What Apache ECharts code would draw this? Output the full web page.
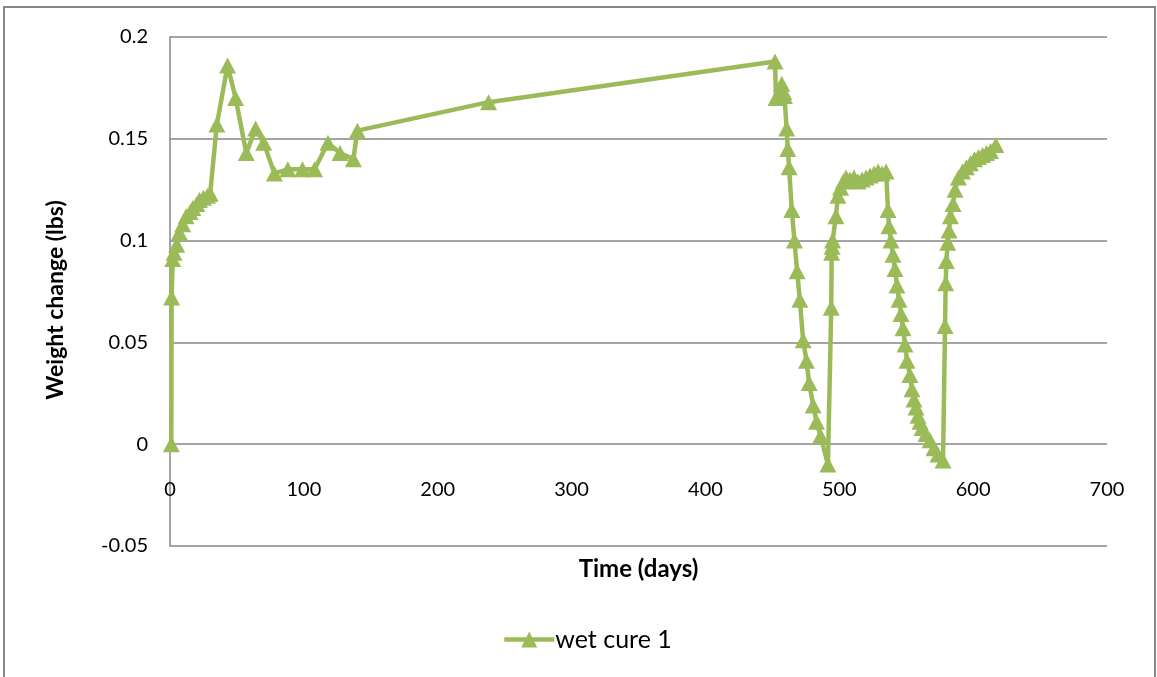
<!DOCTYPE html>
<html>
<head>
<meta charset="utf-8">
<script src="https://cdn.jsdelivr.net/npm/echarts@6/dist/echarts.min.js"></script>
<style>
  html, body { margin: 0; padding: 0; background: #fff; }
  #chart { width: 1157px; height: 677px; }
</style>
</head>
<body>
<div id="chart"></div>
<script>
// Weight change of the "wet cure 1" specimen over time
const days = [
  1, 1.2, 2, 3, 5, 7, 9.5, 12, 15, 17, 20, 22, 25, 28, 30,
  35, 43, 49, 57, 64, 70, 78, 88, 99, 108, 118, 127, 137, 140,
  238, 452, 452.7, 457, 458.5, 459,
  460.7, 461.5, 462.5, 464.5, 466.5, 468.5, 470.5, 473, 475.5, 477.5, 480.5, 483, 486, 491.5,
  494, 494.3, 494.6, 495, 497.5, 499,
  501, 503, 505, 508, 511, 514, 517, 520, 523, 526, 529, 532, 535,
  536.4, 537.1, 538.6, 540.1, 541.6, 543.1, 544.6, 546.1, 547.6, 549.1, 550.6, 552.8, 554.3,
  555.8, 557.3, 558.8, 560.3, 561.8, 564.8, 567.8, 570.7, 573.7, 577.5,
  579, 579.5, 580, 581, 582, 583, 585, 586.5, 589, 592, 595, 598, 601, 604, 607, 610, 613, 617
];
const weightChange = [
  0, 0.072, 0.091, 0.094, 0.098, 0.104, 0.108, 0.112, 0.114, 0.116, 0.118, 0.12, 0.121, 0.122, 0.123,
  0.157, 0.186, 0.170, 0.143, 0.155, 0.148, 0.133, 0.135, 0.135, 0.135, 0.148, 0.143, 0.140, 0.154,
  0.168, 0.188, 0.170, 0.177, 0.173, 0.171,
  0.155, 0.145, 0.136, 0.115, 0.100, 0.085, 0.071, 0.051, 0.041, 0.030, 0.019, 0.011, 0.004, -0.010,
  0.067, 0.094, 0.097, 0.100, 0.112, 0.122,
  0.126, 0.129, 0.131, 0.130, 0.131, 0.129, 0.130, 0.131, 0.132, 0.133, 0.134, 0.133, 0.134,
  0.115, 0.107, 0.100, 0.093, 0.086, 0.078, 0.071, 0.064, 0.057, 0.049, 0.041, 0.034, 0.027,
  0.022, 0.018, 0.014, 0.011, 0.008, 0.005, 0.002, -0.002, -0.005, -0.008,
  0.058, 0.079, 0.090, 0.099, 0.105, 0.112, 0.118, 0.125, 0.131, 0.134, 0.136, 0.138, 0.140, 0.141, 0.142, 0.143, 0.144, 0.147
];
const seriesName = 'wet cure 1';
const xTitle = 'Time (days)';
const yTitle = 'Weight change (lbs)';

const FONT = 'Lato, "Open Sans", sans-serif';
const GREEN = '#9BBB59';
const GRID_GRAY = '#868686';

const chart = echarts.init(document.getElementById('chart'), null, { renderer: 'canvas' });

chart.setOption({
  animation: false,
  backgroundColor: '#fff',
  graphic: [{
    type: 'rect',
    shape: { x: 4, y: 7, width: 1151, height: 690 },
    style: { fill: 'none', stroke: GRID_GRAY, lineWidth: 2 },
    silent: true
  }, {
    // vertical axis title
    type: 'text',
    x: 56, y: 300,
    rotation: Math.PI / 2,
    style: {
      text: yTitle,
      fontFamily: FONT, fontSize: 23, fontWeight: 'bold', fill: '#000',
      align: 'center', verticalAlign: 'middle'
    },
    silent: true
  }],
  grid: { left: 170, right: 50, top: 37, bottom: 131 },
  legend: {
    data: [seriesName],
    left: 497, top: 622,
    itemWidth: 50, itemHeight: 20,
    itemGap: 0,
    lineStyle: { width: 4.5, color: GREEN },
    itemStyle: { color: GREEN },
    textStyle: { fontFamily: FONT, fontSize: 25, color: '#000', padding: [0, 0, 0, -4] }
  },
  xAxis: {
    type: 'value',
    min: 0, max: 700, interval: 100,
    name: xTitle,
    nameLocation: 'middle',
    nameGap: 11,
    nameTextStyle: { fontFamily: FONT, fontSize: 24, fontWeight: 'bold', color: '#000' },
    axisLine: { show: false, onZero: false },
    axisTick: { show: false },
    splitLine: { show: false },
    axisLabel: { fontFamily: FONT, fontSize: 20, color: '#000', margin: -66 }
  },
  yAxis: {
    type: 'value',
    min: -0.05, max: 0.2, interval: 0.05,
    axisLine: { show: true, lineStyle: { color: GRID_GRAY, width: 1.5 } },
    axisTick: { show: false },
    splitLine: { show: true, lineStyle: { color: GRID_GRAY, width: 1.5 } },
    axisLabel: {
      fontFamily: FONT, fontSize: 20, color: '#000', margin: 22,
      formatter: v => String(Math.round(v * 100) / 100)
    }
  },
  series: [{
    name: seriesName,
    type: 'line',
    data: days.map((d, i) => [d, weightChange[i]]),
    symbol: 'triangle',
    symbolSize: [17, 16],
    showAllSymbol: true,
    lineStyle: { color: GREEN, width: 4.5 },
    itemStyle: { color: GREEN },
    emphasis: { disabled: true }
  }]
});
</script>
</body>
</html>
